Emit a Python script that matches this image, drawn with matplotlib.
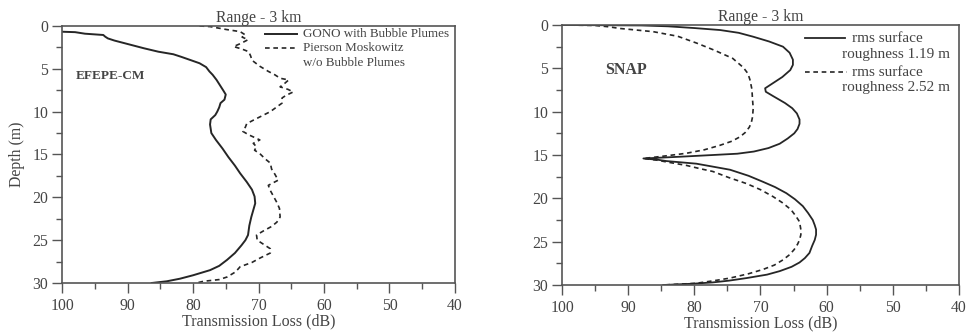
import matplotlib
matplotlib.use("Agg")
import matplotlib.pyplot as plt
from matplotlib.lines import Line2D

plt.rcParams['font.family'] = ['Liberation Serif', 'DejaVu Serif']

# ---- EFEPE-CM: transmission loss vs depth ----
efepe_gono_depth = [0.67, 0.72, 0.9, 1.05, 1.25, 1.45, 1.7, 2.0, 2.2, 2.6, 3.0, 3.3,
                    3.6, 4.0, 4.35, 4.8, 5.3, 5.7, 6.3, 6.9, 7.5, 8.0, 8.6, 9.0, 9.5,
                    10.0, 10.4, 10.9, 11.5, 12.5, 13.3, 14.3, 15.3, 16.3, 17.2, 18.2,
                    19.1, 19.9, 20.7, 21.5, 22.3, 23.3, 24.4, 25.0, 25.6, 26.5, 27.3,
                    28.0, 28.5, 29.1, 29.5, 29.8, 30.0]
efepe_gono_tl = [100.0, 98.0, 96.5, 93.7, 93.4, 93.0, 92.0, 90.5, 89.5, 87.5, 85.3, 83.0,
                 81.8, 80.3, 79.0, 78.0, 77.5, 77.0, 76.4, 75.9, 75.4, 75.0, 75.2, 75.8, 76.0,
                 76.3, 76.6, 77.3, 77.4, 77.2, 76.5, 75.5, 74.6, 73.6, 72.8, 71.8,
                 71.0, 70.6, 70.5, 70.8, 71.1, 71.4, 71.6, 72.0, 72.6, 73.6, 74.8,
                 76.0, 77.4, 80.0, 82.0, 84.0, 86.3]

efepe_pm_depth = [0.0, 0.07, 0.4, 0.66, 1.05, 1.3, 1.6, 2.0, 2.4, 2.7, 3.0, 3.5, 4.0, 4.7,
                  5.3, 5.7, 6.1, 6.3, 6.7, 7.1, 7.4, 7.7, 8.1, 8.4, 9.0, 9.5, 10.0, 10.5,
                  11.0, 11.4, 11.8, 12.3, 12.7, 13.3, 13.7, 14.1, 14.5, 14.9, 15.5, 16.0,
                  16.7, 17.3, 18.0, 18.6, 19.2, 19.9, 20.6, 21.3, 22.3, 22.9, 23.4, 23.9,
                  24.4, 25.0, 25.6, 26.0, 26.5, 27.1, 27.6, 28.1, 28.7, 29.3, 29.6, 29.8, 30.0]
efepe_pm_tl = [79.0, 77.4, 75.0, 72.8, 72.0, 72.5, 71.6, 72.6, 73.8, 72.5, 71.5, 71.2, 71.0, 69.8,
               68.5, 67.5, 66.7, 65.4, 66.0, 66.7, 65.5, 64.7, 65.8, 66.4, 66.4, 67.3, 68.2, 69.5,
               70.8, 71.8, 72.0, 72.4, 71.5, 69.8, 70.8, 70.3, 70.6, 69.8, 69.0, 68.2,
               68.0, 67.5, 67.0, 68.5, 68.2, 67.7, 67.2, 66.8, 66.7, 67.2, 68.0, 69.2,
               70.3, 70.2, 69.0, 68.2, 68.2, 69.8, 71.0, 72.8, 73.5, 74.8, 76.0, 78.4, 79.5]

# ---- SNAP: transmission loss vs depth for two roughness values ----
snap_r119_depth = [0.0, 0.05, 0.15, 0.35, 0.58, 0.9, 1.35, 1.9, 2.5, 3.2, 4.0, 4.6, 5.2,
                   6.0, 6.7, 7.3, 7.7, 8.2, 9.0, 9.6, 10.2, 10.9, 11.4, 12.0, 12.5, 13.1,
                   13.7, 14.2, 14.6, 14.85, 15.0, 15.2, 15.4, 15.55, 15.7, 16.0, 16.3, 16.7,
                   17.4, 18.1, 18.7, 19.4, 20.1, 20.9, 21.7, 22.5, 23.1, 23.6, 24.2, 24.8,
                   25.5, 26.3, 26.9, 27.4, 27.9, 28.4, 28.8, 29.2, 29.5, 29.7, 29.85, 30.0]
snap_r119_tl = [100.0, 88.0, 84.0, 80.0, 76.1, 73.3, 71.1, 68.7, 66.6, 65.6, 65.1, 65.1, 65.5,
                66.7, 68.1, 69.3, 69.2, 68.1, 66.3, 65.2, 64.5, 64.1, 64.1, 64.4, 64.9, 65.9,
                67.1, 68.8, 71.0, 73.5, 77.2, 82.2, 87.7, 85.5, 84.2, 79.7, 77.5, 74.6,
                71.8, 69.6, 67.8, 66.1, 64.8, 63.6, 62.8, 62.1, 61.8, 61.6, 61.6, 61.8,
                62.2, 62.6, 63.3, 64.1, 65.3, 67.1, 69.0, 72.1, 74.8, 77.2, 80.2, 84.7]

snap_r252_depth = [0.0, 0.05, 0.2, 0.4, 0.77, 1.3, 2.1, 2.9, 3.85, 4.9, 5.6, 6.3, 7.4, 8.65,
                   9.6, 10.6, 11.3, 11.8, 12.4, 12.9, 13.4, 13.9, 14.4, 14.8, 15.1, 15.4,
                   15.6, 15.8, 16.2, 16.6, 16.9, 17.6, 18.3, 19.0, 19.8, 20.5, 21.3, 22.0,
                   22.7, 23.6, 24.2, 24.8, 25.3, 25.9, 26.5, 27.1, 27.7, 28.2, 28.7, 29.2,
                   29.5, 29.8, 30.0]
snap_r252_tl = [100.0, 95.0, 93.0, 91.2, 86.2, 82.5, 79.6, 77.0, 74.2, 72.6, 71.9, 71.6, 71.3, 71.2,
                71.1, 71.2, 71.4, 71.7, 72.3, 73.1, 74.3, 76.2, 78.5, 81.2, 84.3, 87.7,
                85.6, 84.2, 81.2, 79.0, 77.2, 74.8, 72.1, 70.0, 68.1, 66.7, 65.4, 64.7,
                64.1, 63.9, 63.9, 64.1, 64.4, 64.9, 65.6, 66.6, 67.9, 69.6, 71.8, 74.6,
                77.0, 79.7, 84.7]

x_ticks = [100, 90, 80, 70, 60, 50, 40]
y_ticks = [0, 5, 10, 15, 20, 25, 30]

TEXT = '#444444'
INK = '#262626'
FRAME = '#555555'
DASH = (0, (2.8, 2.2))

fig = plt.figure(figsize=(9.72, 3.34), dpi=100)
ax1 = fig.add_axes([0.0638, 0.1527, 0.4043, 0.7695])
ax2 = fig.add_axes([0.5782, 0.1467, 0.4084, 0.7784])


def style_axes(ax):
    ax.set_xlim(100, 40)
    ax.set_ylim(30, 0)
    ax.set_xticks(x_ticks)
    ax.set_xticks([95, 85, 75, 65, 55, 45], minor=True)
    ax.set_yticks(y_ticks)
    ax.set_yticks([2.5, 7.5, 12.5, 17.5, 22.5, 27.5], minor=True)
    ax.tick_params(which='major', direction='out', length=7, width=1.0,
                   color=FRAME, labelcolor=TEXT, labelsize=11.3)
    ax.tick_params(axis='x', which='major', pad=3.5)
    ax.tick_params(axis='y', which='major', pad=3)
    ax.tick_params(which='minor', direction='out', length=4, width=1.0, color=FRAME)
    for s in ax.spines.values():
        s.set_color(FRAME)
        s.set_linewidth(1.2)
    ax.set_title('Range - 3 km', fontsize=11.3, color=TEXT, pad=3)
    ax.set_xlabel('Transmission Loss (dB)', fontsize=11.5, color=TEXT, labelpad=0)


def key_entry(ax, x0, x1, y, style, lw):
    ax.add_line(Line2D([x0, x1], [y, y], transform=ax.transAxes, color=INK,
                       lw=lw, linestyle=style, clip_on=False))


# Left panel
style_axes(ax1)
ax1.plot(efepe_gono_tl, efepe_gono_depth, color=INK, lw=1.4, solid_joinstyle='round')
ax1.plot(efepe_pm_tl, efepe_pm_depth, color=INK, lw=1.2, linestyle=DASH)
ax1.set_ylabel('Depth (m)', fontsize=11.3, color=TEXT, labelpad=5)
ax1.text(97.9, 5.8, 'EFEPE-CM', fontsize=9.5, fontweight='bold', color=TEXT,
         ha='left', va='center')

key_entry(ax1, 0.517, 0.598, 0.969, '-', 1.4)
key_entry(ax1, 0.517, 0.598, 0.914, DASH, 1.2)
ax1.text(0.613, 0.969, 'GONO with Bubble Plumes', transform=ax1.transAxes,
         fontsize=9.4, color=TEXT, ha='left', va='center')
ax1.text(0.613, 0.914, 'Pierson Moskowitz', transform=ax1.transAxes,
         fontsize=9.4, color=TEXT, ha='left', va='center')
ax1.text(0.613, 0.856, 'w/o Bubble Plumes', transform=ax1.transAxes,
         fontsize=9.4, color=TEXT, ha='left', va='center')

# Right panel
style_axes(ax2)
ax2.plot(snap_r119_tl, snap_r119_depth, color=INK, lw=1.3)
ax2.plot(snap_r252_tl, snap_r252_depth, color=INK, lw=1.2, linestyle=DASH)
ax2.text(93.5, 5.2, 'SNAP', fontsize=11.5, fontweight='bold', color=TEXT,
         ha='left', va='center')

key_entry(ax2, 0.612, 0.713, 0.950, '-', 1.3)
key_entry(ax2, 0.612, 0.718, 0.819, DASH, 1.2)
ax2.text(0.730, 0.950, 'rms surface', transform=ax2.transAxes,
         fontsize=11, color=TEXT, ha='left', va='center')
ax2.text(0.705, 0.885, 'roughness 1.19 m', transform=ax2.transAxes,
         fontsize=11, color=TEXT, ha='left', va='center')
ax2.text(0.730, 0.819, 'rms surface', transform=ax2.transAxes,
         fontsize=11, color=TEXT, ha='left', va='center')
ax2.text(0.705, 0.758, 'roughness 2.52 m', transform=ax2.transAxes,
         fontsize=11, color=TEXT, ha='left', va='center')

fig.savefig('out.png', dpi=100)
